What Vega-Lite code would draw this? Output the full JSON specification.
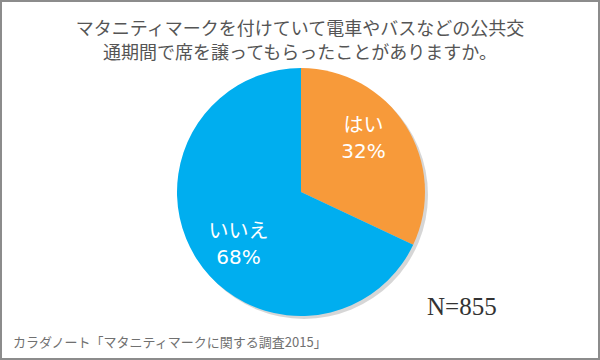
{
  "$schema": "https://vega.github.io/schema/vega-lite/v6.json",
  "width": 600,
  "height": 360,
  "padding": 0,
  "autosize": "none",
  "background": "white",
  "config": {"view": {"stroke": "#8c8c8c", "strokeWidth": 4}},
  "title": {
    "text": ["マタニティマークを付けていて電車やバスなどの公共交", "通期間で席を譲ってもらったことがありますか。"],
    "font": "Noto Sans CJK JP",
    "fontSize": 18,
    "fontWeight": "normal",
    "color": "#555555",
    "lineHeight": 24,
    "offset": -63,
    "anchor": "middle"
  },
  "data": {
    "values": [
      {"answer": "はい", "pct": 32, "label": "はい\n32%", "idx": 1},
      {"answer": "いいえ", "pct": 68, "label": "いいえ\n68%", "idx": 2}
    ]
  },
  "layer": [
    {
      "data": {"values": [{"shadow": 1}]},
      "mark": {"type": "arc", "outerRadius": 124, "theta": 0, "theta2": 6.2832, "xOffset": 4, "yOffset": 15, "color": "#000000", "opacity": 0.16},
      "encoding": {}
    },
    {
      "mark": {"type": "arc", "outerRadius": 124, "xOffset": 1, "yOffset": 12},
      "encoding": {
        "theta": {"field": "pct", "type": "quantitative", "stack": true},
        "color": {"field": "answer", "type": "nominal", "scale": {"domain": ["はい", "いいえ"], "range": ["#F79A3A", "#00AEEF"]}, "legend": null},
        "order": {"field": "idx", "type": "ordinal"}
      }
    },
    {
      "mark": {"type": "text", "radius": 82, "thetaOffset": -0.14, "xOffset": 1, "yOffset": 12, "dy": -13, "font": "DejaVu Sans, Noto Sans CJK JP", "fontSize": 20, "color": "white", "lineBreak": "\n", "lineHeight": 26},
      "encoding": {
        "theta": {"field": "pct", "type": "quantitative", "stack": true},
        "order": {"field": "idx", "type": "ordinal"},
        "text": {"field": "label", "type": "nominal"}
      }
    },
    {
      "data": {"values": [{"note": "N=855"}]},
      "mark": {"type": "text", "font": "Liberation Serif", "fontSize": 25, "color": "#333333", "align": "left", "baseline": "middle"},
      "encoding": {"x": {"value": 427}, "y": {"value": 307}, "text": {"field": "note", "type": "nominal"}}
    },
    {
      "data": {"values": [{"source": "カラダノート「マタニティマークに関する調査2015」"}]},
      "mark": {"type": "text", "font": "Noto Sans CJK JP", "fontSize": 13, "color": "#707070", "align": "left", "baseline": "middle"},
      "encoding": {"x": {"value": 13}, "y": {"value": 343}, "text": {"field": "source", "type": "nominal"}}
    }
  ]
}
